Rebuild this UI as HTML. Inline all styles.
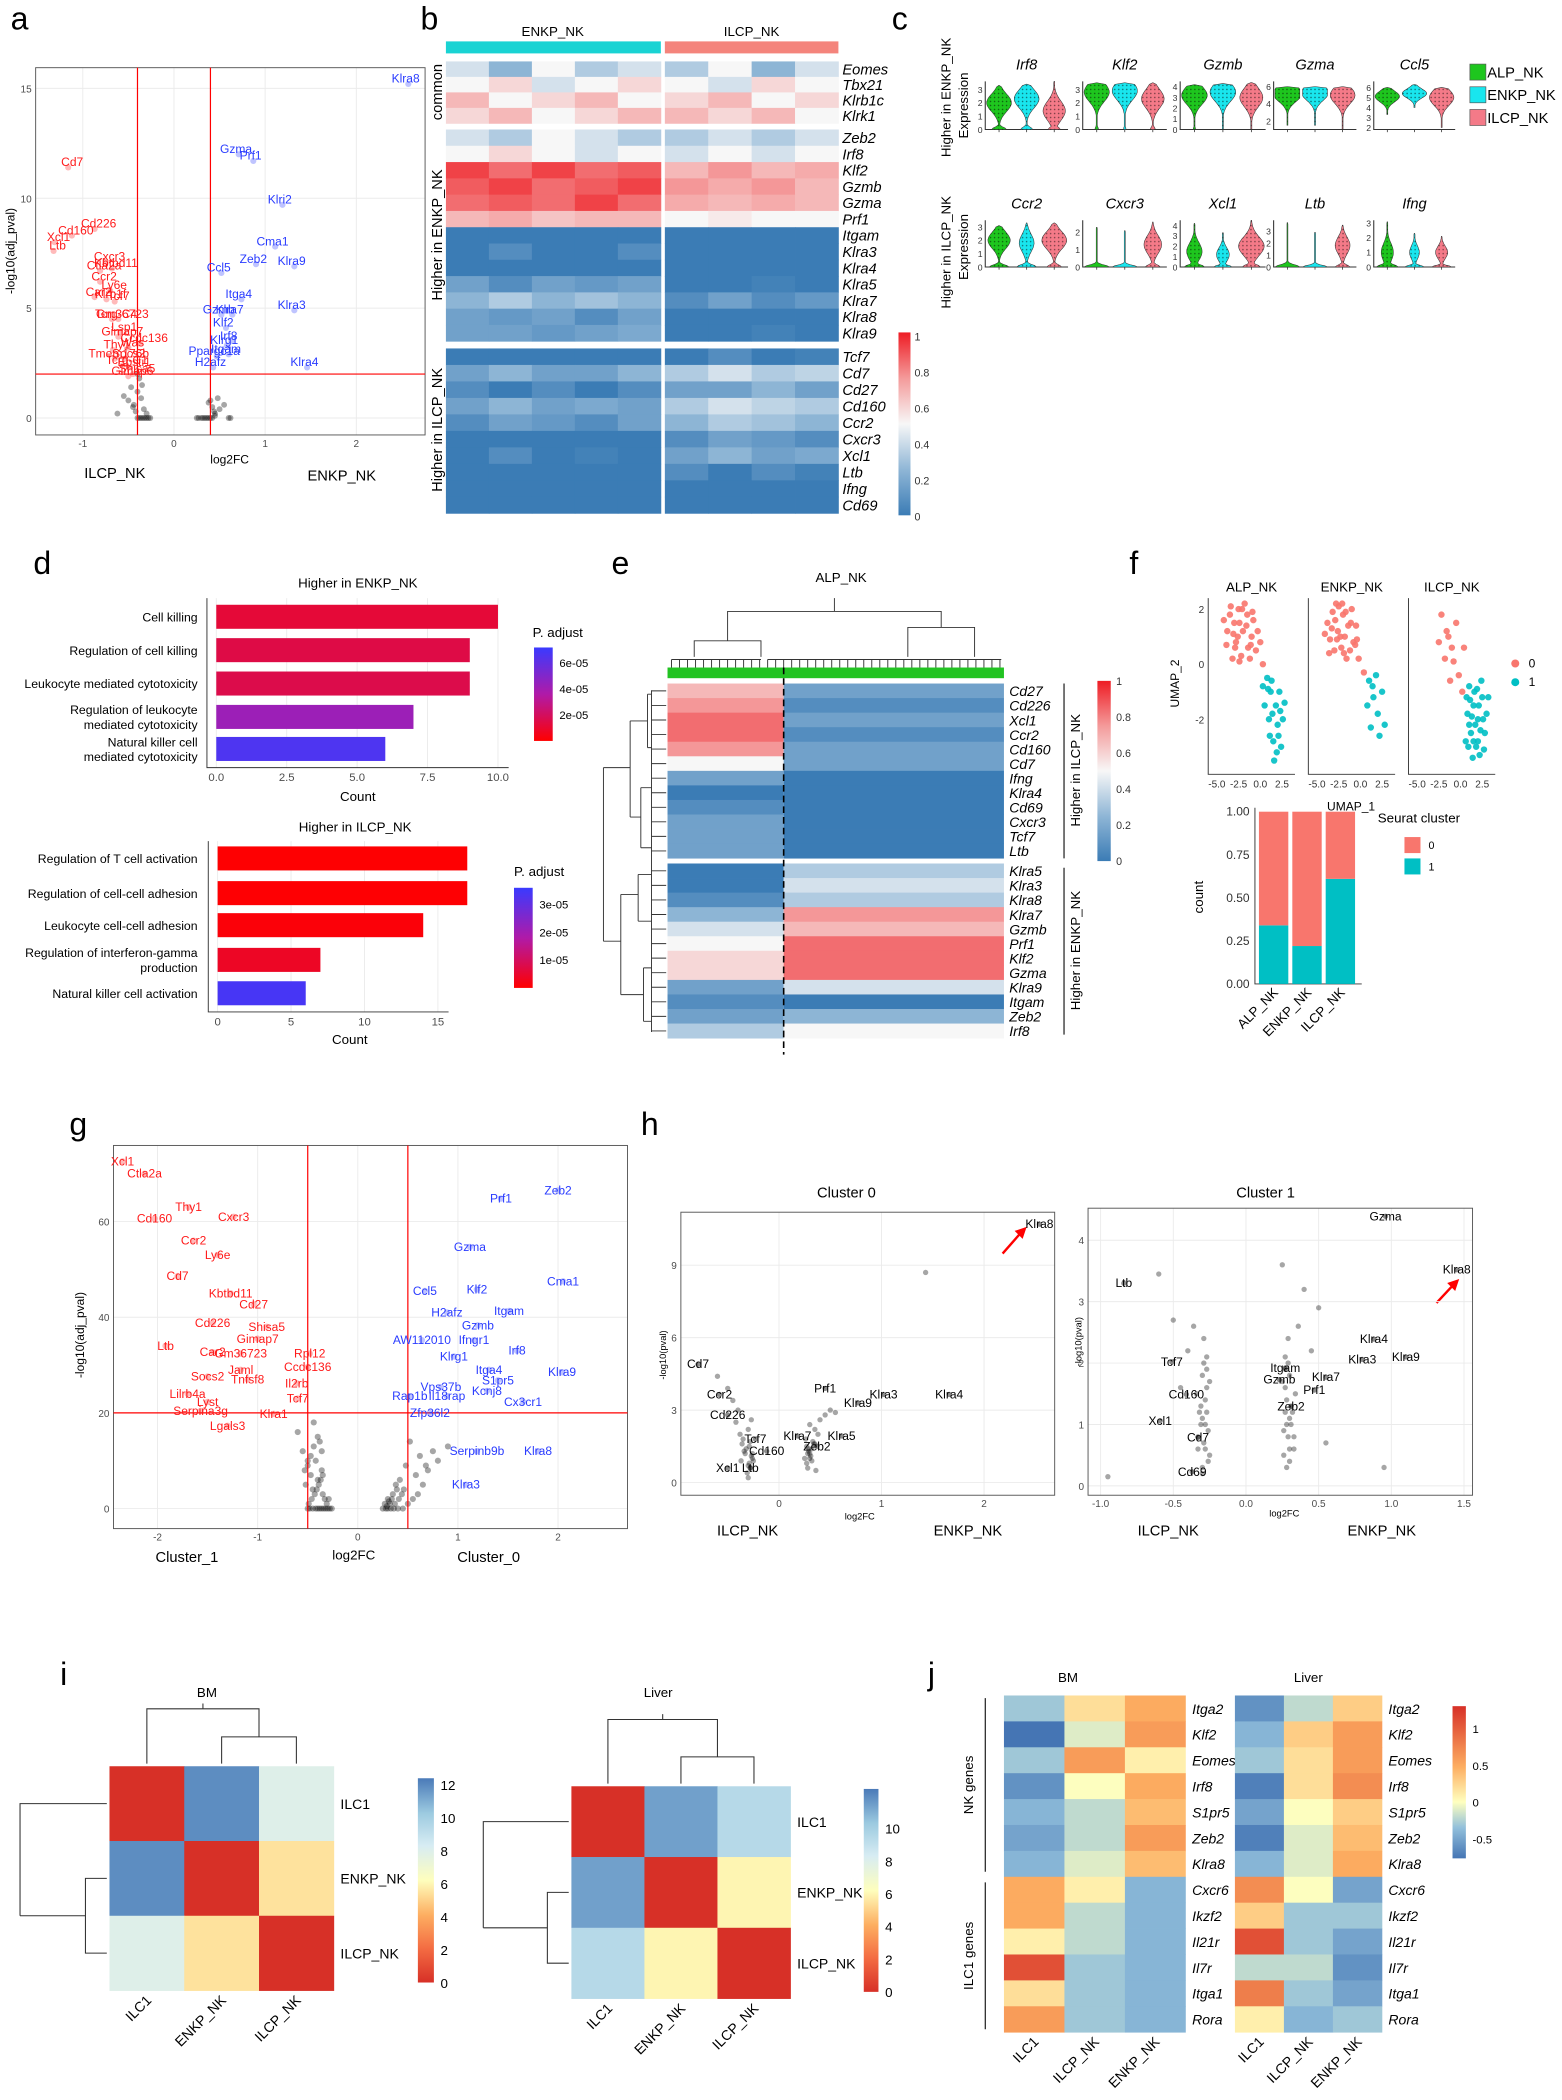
<!DOCTYPE html>
<html><head><meta charset="utf-8"><title>Figure</title>
<style>
html,body{margin:0;padding:0;background:#fff;}
svg{display:block;font-family:"Liberation Sans",Arial,sans-serif;}
.it{font-style:italic;}
</style></head>
<body>
<svg id="fig" xmlns="http://www.w3.org/2000/svg" width="1562" height="2100" viewBox="0 0 1170 1573">
<defs>
<pattern id="dots" width="3" height="3" patternUnits="userSpaceOnUse"><circle cx="1" cy="1" r="0.55" fill="#000" opacity="0.55"/></pattern>
<linearGradient id="gradB" x1="0" y1="1" x2="0" y2="0"><stop offset="0" stop-color="#3b7cb5"/><stop offset="0.25" stop-color="#8fb6d6"/><stop offset="0.5" stop-color="#f7f7f7"/><stop offset="0.75" stop-color="#f49a9a"/><stop offset="1" stop-color="#ee1c24"/></linearGradient>
<linearGradient id="gradP" x1="0" y1="1" x2="0" y2="0"><stop offset="0" stop-color="#ff0000"/><stop offset="0.5" stop-color="#b01aa8"/><stop offset="1" stop-color="#3a3aff"/></linearGradient>
<linearGradient id="gradI" x1="0" y1="1" x2="0" y2="0"><stop offset="0" stop-color="#d73027"/><stop offset="0.17" stop-color="#f46d43"/><stop offset="0.33" stop-color="#fdae61"/><stop offset="0.5" stop-color="#fefebd"/><stop offset="0.67" stop-color="#d7ecf3"/><stop offset="0.83" stop-color="#9ccae0"/><stop offset="1" stop-color="#4a7ab8"/></linearGradient>
<linearGradient id="gradJ" x1="0" y1="1" x2="0" y2="0"><stop offset="0" stop-color="#4575b4"/><stop offset="0.2" stop-color="#91bfdb"/><stop offset="0.37" stop-color="#ffffbf"/><stop offset="0.6" stop-color="#fdae61"/><stop offset="1" stop-color="#d73027"/></linearGradient>
</defs>

<text x="8" y="22" font-size="24">a</text>
<text x="315" y="22" font-size="24">b</text>
<text x="668" y="22" font-size="24">c</text>
<text x="25" y="430" font-size="24">d</text>
<text x="458" y="430" font-size="24">e</text>
<text x="846" y="430" font-size="24">f</text>
<text x="52" y="850" font-size="24">g</text>
<text x="480" y="850" font-size="24">h</text>
<text x="45" y="1262" font-size="24">i</text>
<text x="695" y="1262" font-size="24">j</text>

<text transform="translate(11,188) rotate(-90)" font-size="9" text-anchor="middle">-log10(adj_pval)</text>
<text x="172" y="347" font-size="9" text-anchor="middle">log2FC</text>
<text x="86" y="358" font-size="11" text-anchor="middle">ILCP_NK</text>
<text x="256" y="360" font-size="11" text-anchor="middle">ENKP_NK</text>

<rect x="334" y="31" width="161" height="9" fill="#19d3d3"/>
<rect x="498" y="31" width="130" height="9" fill="#f4847c"/>
<text x="414" y="27" font-size="10" text-anchor="middle">ENKP_NK</text>
<text x="563" y="27" font-size="10" text-anchor="middle">ILCP_NK</text>
<text transform="translate(331,69) rotate(-90)" font-size="11" text-anchor="middle">common</text>
<text transform="translate(331,176) rotate(-90)" font-size="11" text-anchor="middle">Higher in ENKP_NK</text>
<text transform="translate(331,322) rotate(-90)" font-size="11" text-anchor="middle">Higher in ILCP_NK</text>
<rect x="673" y="249" width="9" height="137" fill="url(#gradB)"/>

<text transform="translate(712,73) rotate(-90)" font-size="10" text-anchor="middle">Higher in ENKP_NK</text>
<text transform="translate(725,79) rotate(-90)" font-size="10" text-anchor="middle">Expression</text>
<text transform="translate(712,189) rotate(-90)" font-size="10" text-anchor="middle">Higher in ILCP_NK</text>
<text transform="translate(725,185) rotate(-90)" font-size="10" text-anchor="middle">Expression</text>
<rect x="1101" y="48" width="12" height="12" fill="#1ec61e" stroke="#555" stroke-width="0.5"/>
<rect x="1101" y="65" width="12" height="12" fill="#19e6ee" stroke="#555" stroke-width="0.5"/>
<rect x="1101" y="82" width="12" height="12" fill="#f47a88" stroke="#555" stroke-width="0.5"/>
<text x="1114" y="58" font-size="11">ALP_NK</text>
<text x="1114" y="75" font-size="11">ENKP_NK</text>
<text x="1114" y="92" font-size="11">ILCP_NK</text>

<text x="268" y="440" font-size="10" text-anchor="middle">Higher in ENKP_NK</text>
<text x="268" y="600" font-size="10" text-anchor="middle">Count</text>
<text x="399" y="477" font-size="10">P. adjust</text>
<rect x="400" y="485" width="14" height="70" fill="url(#gradP)"/>
<text x="266" y="623" font-size="10" text-anchor="middle">Higher in ILCP_NK</text>
<text x="262" y="782" font-size="10" text-anchor="middle">Count</text>
<text x="385" y="656" font-size="10">P. adjust</text>
<rect x="385" y="665" width="14" height="75" fill="url(#gradP)"/>

<text x="630" y="436" font-size="10" text-anchor="middle">ALP_NK</text>
<rect x="500" y="500" width="252" height="8" fill="#22c322"/>
<rect x="822" y="510" width="10" height="135" fill="url(#gradB)"/>
<line x1="797" y1="512" x2="797" y2="643" stroke="#000" stroke-width="0.8"/>
<line x1="797" y1="650" x2="797" y2="775" stroke="#000" stroke-width="0.8"/>
<text transform="translate(809,577) rotate(-90)" font-size="10" text-anchor="middle">Higher in ILCP_NK</text>
<text transform="translate(809,712) rotate(-90)" font-size="10" text-anchor="middle">Higher in ENKP_NK</text>

<text x="1012" y="607" font-size="9" text-anchor="middle">UMAP_1</text>
<text transform="translate(883,512) rotate(-90)" font-size="9" text-anchor="middle">UMAP_2</text>
<circle cx="1135" cy="497" r="3" fill="#f8766d"/>
<circle cx="1135" cy="511" r="3" fill="#00bfc4"/>
<text x="1145" y="500" font-size="9">0</text>
<text x="1145" y="514" font-size="9">1</text>
<text transform="translate(901,672) rotate(-90)" font-size="10" text-anchor="middle">count</text>
<text x="1032" y="616" font-size="10">Seurat cluster</text>
<rect x="1052" y="627" width="12" height="12" fill="#f8766d"/>
<rect x="1052" y="643" width="12" height="12" fill="#00bfc4"/>
<text x="1070" y="636" font-size="8">0</text>
<text x="1070" y="652" font-size="8">1</text>

<text transform="translate(63,1000) rotate(-90)" font-size="9" text-anchor="middle">-log10(adj_pval)</text>
<text x="265" y="1168" font-size="10" text-anchor="middle">log2FC</text>
<text x="140" y="1170" font-size="11" text-anchor="middle">Cluster_1</text>
<text x="366" y="1170" font-size="11" text-anchor="middle">Cluster_0</text>

<text x="634" y="897" font-size="11" text-anchor="middle">Cluster 0</text>
<text x="948" y="897" font-size="11" text-anchor="middle">Cluster 1</text>
<text transform="translate(499,1015) rotate(-90)" font-size="7" text-anchor="middle">-log10(pval)</text>
<text transform="translate(810,1005) rotate(-90)" font-size="7" text-anchor="middle">-log10(pval)</text>
<text x="644" y="1138" font-size="7" text-anchor="middle">log2FC</text>
<text x="962" y="1136" font-size="7" text-anchor="middle">log2FC</text>
<text x="560" y="1150" font-size="11" text-anchor="middle">ILCP_NK</text>
<text x="725" y="1150" font-size="11" text-anchor="middle">ENKP_NK</text>
<text x="875" y="1150" font-size="11" text-anchor="middle">ILCP_NK</text>
<text x="1035" y="1150" font-size="11" text-anchor="middle">ENKP_NK</text>
<line x1="751" y1="939" x2="765" y2="923" stroke="#f00" stroke-width="1.8"/>
<polygon points="769,919 760,922 766,928" fill="#f00"/>
<line x1="1076" y1="976" x2="1089" y2="962" stroke="#f00" stroke-width="1.8"/>
<polygon points="1093,958 1084,961 1090,967" fill="#f00"/>

<text x="155" y="1271" font-size="10" text-anchor="middle">BM</text>
<text x="493" y="1271" font-size="10" text-anchor="middle">Liver</text>
<rect x="313" y="1332" width="12" height="153" fill="url(#gradI)"/>
<rect x="647" y="1340" width="11" height="152" fill="url(#gradI)"/>

<text x="800" y="1260" font-size="10" text-anchor="middle">BM</text>
<text x="980" y="1260" font-size="10" text-anchor="middle">Liver</text>
<line x1="738" y1="1272" x2="738" y2="1402" stroke="#000" stroke-width="0.8"/>
<line x1="738" y1="1410" x2="738" y2="1520" stroke="#000" stroke-width="0.8"/>
<text transform="translate(729,1337) rotate(-90)" font-size="10" text-anchor="middle">NK genes</text>
<text transform="translate(729,1465) rotate(-90)" font-size="10" text-anchor="middle">ILC1 genes</text>
<rect x="1088" y="1278" width="10" height="114" fill="url(#gradJ)"/>
</svg>

<script>
// ================= DATA =================
const aGenes = ['Cd7','Cd226','Cd160','Xcl1','Ltb','Cxcr3','Kbtbd11','Ctla2a','Ccr2','Car2','Ly6e','Klrb1f','Tcf7','Tcrg-C4','Gm36723','Lsp1','Gimap7','Thy1','Was','Ccdc136','Tmem176b','Socs2','Tcrg-C1','Epsti1','Gimap6','Shisa5',
 'Klra8','Gzma','Prf1','Klri2','Cma1','Zeb2','Klra9','Ccl5','Itga4','Klra3','Gzmb','Klra7','Klf2','Irf8','Klrg1','Ppargc1a','Itgam','Klra4','H2afz'];
const aFc = [-1.16,-0.87,-1.12,-1.31,-1.32,-0.75,-0.68,-0.81,-0.81,-0.87,-0.7,-0.74,-0.65,-0.68,-0.61,-0.59,-0.61,-0.67,-0.5,-0.37,-0.65,-0.54,-0.56,-0.48,-0.5,-0.45,
 2.57,0.71,0.87,1.19,1.11,0.9,1.32,0.52,0.74,1.32,0.52,0.64,0.57,0.63,0.58,0.47,0.6,1.46,0.43];
const aP = [11.4,8.6,8.3,8.0,7.6,7.1,6.8,6.7,6.2,5.5,5.8,5.4,5.3,4.5,4.5,3.9,3.7,3.1,3.2,3.4,2.7,2.7,2.4,2.3,1.9,2.0,
 15.2,12.0,11.7,9.7,7.8,7.0,6.9,6.6,5.4,4.9,4.7,4.7,4.1,3.5,3.3,2.8,2.9,2.3,2.3];
const aBgFc = [-0.38,-0.36,-0.34,-0.32,-0.3,-0.28,-0.26,-0.4,-0.42,-0.45,-0.5,-0.55,-0.62,-0.35,-0.38,-0.4,-0.44,-0.36,-0.33,-0.4,-0.47,-0.3,0.25,0.27,0.3,0.32,0.34,0.36,0.38,0.4,0.42,0.45,0.5,0.55,0.6,0.4,0.42,0.44,0.38,0.62,0.45,0.48];
const aBgP = [0,0,0,0,0,0,0,0,0.3,0.5,0.8,1.0,0.2,1.5,1.8,1.2,0.6,0.9,0.4,2.0,1.4,0.2,0,0,0,0,0,0,0,0,0,0.2,0.4,0.6,0,0.8,0.5,0.3,0.7,0,0.1,0.9];
const aXTicks = [-1,0,1,2];
const aYTicks = [0,5,10,15];

const bGenes = ['Eomes','Tbx21','Klrb1c','Klrk1','Zeb2','Irf8','Klf2','Gzmb','Gzma','Prf1','Itgam','Klra3','Klra4','Klra5','Klra7','Klra8','Klra9','Tcf7','Cd7','Cd27','Cd160','Ccr2','Cxcr3','Xcl1','Ltb','Ifng','Cd69'];
const bSection = [0,0,0,0,1,1,1,1,1,1,1,1,1,1,1,1,1,2,2,2,2,2,2,2,2,2,2];
const bEnkp = [[.45,.35,.5,.4,.45],[.5,.55,.45,.5,.55],[.6,.5,.55,.6,.5],[.55,.6,.5,.55,.6],[.45,.4,.5,.45,.4],[.5,.55,.5,.45,.5],[.75,.7,.75,.7,.72],[.72,.75,.7,.72,.75],[.7,.72,.7,.75,.7],[.6,.62,.58,.6,.6],[.15,.1,.15,.1,.12],[.2,.25,.2,.2,.25],[.15,.2,.15,.15,.2],[.3,.25,.3,.28,.3],[.35,.4,.35,.38,.35],[.3,.28,.3,.25,.3],[.3,.3,.28,.3,.32],
 [.15,.15,.12,.15,.15],[.3,.35,.3,.3,.35],[.25,.2,.25,.2,.25],[.3,.35,.3,.32,.3],[.25,.3,.28,.25,.3],[.15,.2,.15,.18,.15],[.2,.25,.2,.22,.2],[.15,.12,.15,.12,.15],[.12,.15,.12,.1,.15],[.1,.12,.1,.1,.12]];
const bIlcp = [[.4,.5,.35,.45],[.5,.45,.55,.5],[.55,.6,.5,.55],[.6,.55,.6,.5],[.4,.45,.4,.45],[.45,.5,.45,.5],[.6,.65,.6,.62],[.65,.62,.65,.6],[.62,.6,.62,.6],[.5,.52,.5,.5],[.1,.1,.12,.1],[.15,.12,.15,.12],[.1,.12,.1,.1],[.2,.2,.22,.2],[.25,.3,.25,.28],[.15,.18,.15,.15],[.2,.2,.22,.2],
 [.2,.25,.2,.22],[.4,.45,.4,.42],[.3,.3,.35,.3],[.4,.45,.42,.4],[.35,.4,.38,.35],[.25,.3,.28,.25],[.3,.35,.3,.32],[.25,.2,.25,.22],[.2,.18,.2,.2],[.15,.12,.15,.15]];
const bBarTicks = ['1','0.8','0.6','0.4','0.2','0'];

const cGenes1 = ['Irf8','Klf2','Gzmb','Gzma','Ccl5'];
const cGenes2 = ['Ccr2','Cxcr3','Xcl1','Ltb','Ifng'];
const cDom1 = [[0,3.6],[0,3.6],[0,4.5],[1,6.6],[1.8,6.6]];
const cDom2 = [[0,3.5],[0,2.7],[0,4.5],[0,3.9],[0,3.2]];
const cTicks1 = [[0,1,2,3],[0,1,2,3],[0,1,2,3,4],[2,4,6],[2,3,4,5,6]];
const cTicks2 = [[0,1,2,3],[0,1,2],[0,1,2,3,4],[0,1,2,3],[0,1,2,3]];
const cVio1 = [
 [[0,3.3,2,0.6,1],[0,3.4,2.3,0.5,1],[0,3.6,1.4,0.5,0.9]],
 [[0,3.5,2.8,0.15,1],[0,3.5,2.9,0.1,1],[0,3.5,2.3,0.2,0.9]],
 [[0,4.2,3.2,0.1,1],[0,4.3,3.5,0,1],[0,4.4,3,0,0.9]],
 [[1.5,6,5.2,0,1.2],[1.5,6,5.3,0,1.1],[1,6,5,0,1]],
 [[3.3,6,5.1,0,1],[4,6.3,5.4,0,1],[2,6,5,0,1]]];
const cVio2 = [
 [[0,3.1,2,0.8,0.9],[0,3.3,1.8,0.8,0.6],[0,3.3,2,0.6,1]],
 [[0,2.3,0,1,0],[0,2.1,0,1,0],[0,2.6,1.3,0.6,0.7]],
 [[0,4.2,1.5,0.8,0.6],[0,3.3,1.2,0.7,0.5],[0,4.5,2,0.7,1]],
 [[0,3.7,0,1,0],[0,2.9,0,1,0],[0,3.5,1.8,0.6,0.6]],
 [[0,3.1,1,0.9,0.5],[0,2.3,1,0.8,0.4],[0,2.1,1,0.8,0.5]]];

const d1Cats = ['Cell killing','Regulation of cell killing','Leukocyte mediated cytotoxicity','Regulation of leukocyte|mediated cytotoxicity','Natural killer cell|mediated cytotoxicity'];
const d1Counts = [10,9,9,7,6];
const d1Padj = [1.2e-5,1.5e-5,1.6e-5,4.2e-5,6.6e-5];
const d1XTicks = [0,2.5,5,7.5,10];
const d1XTickLabels = ['0.0','2.5','5.0','7.5','10.0'];
const d1LegTicks = [6e-5,4e-5,2e-5];
const d1LegLabels = ['6e-05','4e-05','2e-05'];
const d2Cats = ['Regulation of T cell activation','Regulation of cell-cell adhesion','Leukocyte cell-cell adhesion','Regulation of interferon-gamma|production','Natural killer cell activation'];
const d2Counts = [17,17,14,7,6];
const d2Padj = [2e-7,3e-7,1e-6,4e-6,3.4e-5];
const d2XTicks = [0,5,10,15];
const d2LegTicks = [3e-5,2e-5,1e-5];
const d2LegLabels = ['3e-05','2e-05','1e-05'];

const eGenes = ['Cd27','Cd226','Xcl1','Ccr2','Cd160','Cd7','Ifng','Klra4','Cd69','Cxcr3','Tcf7','Ltb','Klra5','Klra3','Klra8','Klra7','Gzmb','Prf1','Klf2','Gzma','Klra9','Itgam','Zeb2','Irf8'];
const eLeft = [.6,.65,.7,.7,.65,.5,.3,.2,.25,.3,.3,.3,.2,.2,.25,.35,.45,.5,.55,.55,.3,.25,.3,.4];
const eRight = [.3,.25,.3,.25,.3,.3,.2,.15,.15,.2,.15,.2,.4,.45,.4,.65,.6,.7,.7,.7,.45,.2,.35,.5];

const fPanels = ['ALP_NK','ENKP_NK','ILCP_NK'];
const fX = [[-3.5,-3,-2.5,-2,-1.5,-1,-0.5,-2.8,-3.8,-2.2,-1.2,0,-1.8,-0.8,-3.2,0.3,-2.6,-1.4,-4.2,-3.4,-2.4,-1.6,-0.9,-2.9,-3.9,-2.1,-1.1,-0.3,-2.4,-3.1,0.8,1.2,1.8,2,1.5,2.4,0.5,1,2.2,1.6,2.6,0.3,1.4,2.1,1.1,2.8,0.9,1.9,2.3,1.3],
 [-3.8,-3.2,-2.6,-2,-1.4,-0.8,-0.2,-3,-2.2,-1.6,-1,-3.5,-2.5,-0.5,0.4,-1.8,-2.9,-1.2,-4.1,-3.6,-2.8,-2.3,-1.7,-1.1,-0.6,-3.3,-2.7,-1.9,-0.4,-2.1,1,1.5,2,1.2,2.5,1.8,2.8,0.8,2.2,1.4],
 [-2.2,-1.6,-1,-0.5,-1.8,-0.2,0.4,-1.2,0.2,-2.5,-1.4,-0.8,1,1.5,2,2.5,1.2,1.8,2.8,0.8,2.2,1.6,3,0.6,1.4,2.4,2,1,1.7,2.6,1.1,2.1,0.9,1.5,2.7,1.9,3.2,1.3,2.3,0.7]];
const fY = [[1.8,1.5,2,1.2,1.8,1,0.5,0.8,1.2,0.3,0.2,0.8,2.2,1.6,0.2,0,1,0.6,1.6,2.1,1.5,1.4,1.9,0.6,0.7,2.0,0.7,1.2,0.1,1.1,-0.5,-1,-1.5,-2.2,-2.8,-3,-1.5,-2,-1,-3.5,-2,-0.8,-1.8,-2.6,-2.6,-1.4,-0.9,-3.2,-1.7,-0.6],
 [1.5,1.9,1.2,1.8,1.4,0.8,0.2,0.5,0.6,0.2,2,0.9,2.1,1.4,-0.3,1,1.6,0.5,1.1,0.4,2.2,1.0,1.9,1.5,0.7,1.3,0.9,0.4,0.9,2.2,-0.6,-1.2,-1.8,-2.3,-1,-0.4,-2.2,-1.5,-2.6,-0.8],
 [1.8,1.2,0.6,1.5,0.2,-0.4,0.6,-0.6,-1,0.8,1.0,0.1,-0.8,-1.5,-2,-1.2,-2.5,-3,-2.5,-1.8,-3.3,-1,-1.8,-2.8,-3.4,-0.6,-2.8,-2.2,-2.2,-2.0,-1.3,-1.5,-3.0,-2.8,-3.1,-0.9,-1.2,-1.9,-2.4,-1.2]];
const fC = [[0,0,0,0,0,0,0,0,0,0,0,0,0,0,0,0,0,0,0,0,0,0,0,0,0,0,0,0,0,0,1,1,1,1,1,1,1,1,1,1,1,1,1,1,1,1,1,1,1,1],
 [0,0,0,0,0,0,0,0,0,0,0,0,0,0,0,0,0,0,0,0,0,0,0,0,0,0,0,0,0,0,1,1,1,1,1,1,1,1,1,1],
 [0,0,0,0,0,0,0,0,0,0,0,0,1,1,1,1,1,1,1,1,1,1,1,1,1,1,1,1,1,1,1,1,1,1,1,1,1,1,1,1]];
const fXTickLabels = ['-5.0','-2.5','0.0','2.5'];
const fXTicks = [-5,-2.5,0,2.5];
const fYTicks = [2,0,-2];
const fBarCats = ['ALP_NK','ENKP_NK','ILCP_NK'];
const fCluster1Frac = [0.34,0.22,0.61];
const fBarTicks = [0,0.25,0.5,0.75,1];
const fBarTickLabels = ['0.00','0.25','0.50','0.75','1.00'];

const gGenes = ['Xcl1','Ctla2a','Thy1','Cxcr3','Cd160','Ccr2','Ly6e','Cd7','Kbtbd11','Cd27','Ltb','Cd226','Shisa5','Gimap7','Gm36723','Rpl12','Car2','Jaml','Ccdc136','Socs2','Tnfsf8','Il2rb','Lilrb4a','Lyst','Tcf7','Serpina3g','Klra1','Lgals3',
 'Prf1','Zeb2','Gzma','Cma1','Ccl5','Klf2','Itgam','H2afz','Gzmb','AW112010','Ifngr1','Klrg1','Irf8','Itga4','Klra9','Vps37b','S1pr5','Rap1b','Il18rap','Kcnj8','Cx3cr1','Zfp36l2','Serpinb9b','Klra8','Klra3'];
const gFc = [-2.35,-2.13,-1.69,-1.24,-2.03,-1.64,-1.4,-1.8,-1.27,-1.04,-1.92,-1.45,-0.91,-1,-1.17,-0.48,-1.45,-1.17,-0.5,-1.5,-1.1,-0.61,-1.7,-1.5,-0.6,-1.57,-0.84,-1.3,
 1.43,2,1.12,2.05,0.67,1.19,1.51,0.89,1.2,0.64,1.16,0.96,1.59,1.31,2.04,0.83,1.4,0.52,0.89,1.29,1.65,0.72,1.19,1.8,1.08];
const gP = [72.6,70,63,61,60.6,56,53,48.6,45,42.7,34,38.8,38,35.5,32.4,32.4,32.7,29,29.6,27.6,27,26.2,24,22.3,23,20.4,19.8,17.3,
 64.8,66.5,54.7,47.5,45.5,45.8,41.3,41,38.3,35.2,35.2,31.8,33,29,28.5,25.4,26.8,23.5,23.5,24.6,22.3,20,12,12,5];
const gBgFc = [-0.5,-0.48,-0.45,-0.42,-0.4,-0.38,-0.36,-0.34,-0.32,-0.3,-0.28,-0.26,-0.45,-0.4,-0.35,-0.5,-0.55,-0.6,-0.42,-0.38,-0.47,-0.33,-0.52,-0.44,-0.36,-0.49,-0.46,-0.43,-0.41,-0.39,-0.37,-0.35,-0.53,-0.5,-0.47,-0.44,-0.31,-0.29,-0.4,-0.36,
 0.25,0.28,0.3,0.33,0.36,0.4,0.45,0.5,0.55,0.6,0.65,0.7,0.8,0.9,0.35,0.42,0.48,0.3,0.27,0.52,0.38,0.62,0.32,0.34,0.37,0.41,0.44,0.29,0.31,0.46,0.39,0.58,0.68,0.75];
const gBgP = [0,0,0,0,0,0,0,0,0,0,0,0,4,6,3,9,12,16,10,14,7,2,5,18,8,1,2,3,4,5,6,7,8,10,11,13,1,2,15,12,
 0,0,0,0,0,0,0,1,2,3,5,8,10,13,3,6,9,2,1,14,5,11,1,2,1,2,3,0.5,1.5,4,4,7,9,12];
const gXTicks = [-2,-1,0,1,2];
const gYTicks = [0,20,40,60];

const h0Genes = ['Klra8','Cd7','Ccr2','Cd226','Tcf7','Cd160','Xcl1','Ltb','Prf1','Klra9','Klra3','Klra4','Klra7','Klra5','Zeb2'];
const h0Fc = [2.54,-0.79,-0.58,-0.5,-0.23,-0.12,-0.5,-0.28,0.45,0.77,1.02,1.66,0.18,0.61,0.37];
const h0P = [10.7,4.9,3.65,2.8,1.8,1.3,0.6,0.6,3.9,3.3,3.65,3.65,1.93,1.93,1.5];
const h0BgFc = [1.43,-0.3,-0.28,-0.26,-0.32,-0.35,-0.3,-0.27,-0.4,-0.45,-0.5,-0.6,-0.38,-0.33,-0.29,-0.42,-0.36,-0.31,-0.27,-0.29,-0.25,-0.34,-0.3,-0.28,-0.26,-0.37,
 0.28,0.3,0.32,0.26,0.35,0.4,0.3,0.28,0.45,0.5,0.34,0.38,0.27,0.55,0.31,0.36,0.29,0.33,0.27,0.3,0.25,0.32,0.29,0.35];
const h0BgP = [8.7,0.2,0.6,1,1.4,1.8,2.2,2.6,3,3.4,3.9,4.4,2,1.2,0.8,2.5,1.6,0.4,1.1,1.5,0.9,1.3,0.7,1.7,1.2,0.9,
 0.6,1,1.4,1.8,2.2,2.6,2.4,1.2,2.8,3,1.6,2,0.8,2.9,1.1,0.5,1.3,1.7,1.5,1.2,1.0,0.9,1.4,1.6];
const h0XTicks = [0,1,2];
const h0YTicks = [0,3,6,9];
const h1Genes = ['Gzma','Ltb','Klra8','Klra4','Klra3','Klra9','Tcf7','Itgam','Gzmb','Klra7','Prf1','Cd160','Zeb2','Xcl1','Cd7','Cd69'];
const h1Fc = [0.96,-0.84,1.45,0.88,0.8,1.1,-0.51,0.27,0.23,0.55,0.47,-0.41,0.31,-0.59,-0.33,-0.37];
const h1P = [4.39,3.3,3.52,2.39,2.06,2.1,2.02,1.92,1.73,1.77,1.56,1.49,1.29,1.06,0.79,0.23];
const h1BgFc = [-0.3,-0.28,-0.26,-0.32,-0.34,-0.3,-0.27,-0.29,-0.25,-0.31,-0.36,-0.4,-0.45,-0.5,-0.28,-0.33,-0.3,-0.27,-0.6,-0.95,-0.26,-0.29,-0.31,-0.27,-0.3,-0.28,-0.25,-0.33,-0.29,-0.27,
 0.28,0.3,0.26,0.32,0.34,0.3,0.27,0.29,0.25,0.31,0.36,0.4,0.45,0.5,0.28,0.33,0.3,0.27,0.55,0.95,0.26,0.29,0.31,0.27,0.3,0.28,0.25,0.33,0.29,0.27];
const h1BgP = [0.3,0.6,0.9,1.2,1.5,1.8,2.1,2.4,0.5,1.0,2.6,2.2,1.6,2.7,1.4,0.8,1.1,1.9,3.45,0.15,0.4,0.7,1.3,1.6,0.2,1.0,1.7,0.6,2.0,1.2,
 0.3,0.6,0.9,1.2,1.5,1.8,2.1,2.4,3.6,1.0,2.6,3.2,2.2,2.9,1.4,0.8,1.1,1.9,0.7,0.3,0.5,0.8,1.3,1.6,0.4,1.0,1.7,0.6,2.0,1.2];
const h1XTicks = [-1,-0.5,0,0.5,1,1.5];
const h1XTickLabels = ['-1.0','-0.5','0.0','0.5','1.0','1.5'];
const h1YTicks = [0,1,2,3,4];

const iLabels = ['ILC1','ENKP_NK','ILCP_NK'];
const iBM = [[0,12,8],[12,0,5.5],[8,5.5,0]];
const iLiver = [[0,11.5,9.5],[11.5,0,6],[9.5,6,0]];
const iBMTicks = [12,10,8,6,4,2,0];
const iLiverTicks = [10,8,6,4,2,0];

const jGenes = ['Itga2','Klf2','Eomes','Irf8','S1pr5','Zeb2','Klra8','Cxcr6','Ikzf2','Il21r','Il7r','Itga1','Rora'];
const jCols = ['ILC1','ILCP_NK','ENKP_NK'];
const jBM = [[-0.3,0.2,0.5],[-0.8,-0.1,0.6],[-0.3,0.6,0.1],[-0.6,0,0.5],[-0.4,-0.2,0.4],[-0.5,-0.2,0.6],[-0.4,-0.1,0.4],[0.5,0.1,-0.4],[0.5,-0.2,-0.4],[0.1,-0.2,-0.4],[1.1,-0.3,-0.4],[0.2,-0.3,-0.4],[0.6,-0.3,-0.4]];
const jLiver = [[-0.6,-0.2,0.3],[-0.4,0.3,0.6],[-0.3,0.2,0.6],[-0.7,0.2,0.7],[-0.5,0,0.3],[-0.7,-0.1,0.4],[-0.4,-0.1,0.5],[0.7,0,-0.5],[0.3,-0.3,-0.3],[1.1,-0.3,-0.5],[-0.2,-0.2,-0.6],[0.8,-0.3,-0.5],[0.1,-0.4,-0.3]];
const jTicks = [1,0.5,0,-0.5];
const jTickLabels = ['1','0.5','0','-0.5'];

// ================= HELPERS =================
const NS='http://www.w3.org/2000/svg';
const svg=document.getElementById('fig');
function mk(tag,attrs,parent){const e=document.createElementNS(NS,tag);for(const k in attrs)e.setAttribute(k,attrs[k]);(parent||svg).appendChild(e);return e;}
function txt(s,attrs,parent){const e=mk('text',attrs,parent);e.textContent=s;return e;}
function hex(c){return [parseInt(c.slice(1,3),16),parseInt(c.slice(3,5),16),parseInt(c.slice(5,7),16)];}
function interp(stops,t){t=Math.max(0,Math.min(1,t));for(let i=0;i<stops.length-1;i++){const a=stops[i],b=stops[i+1];if(t<=b[0]){const u=(t-a[0])/(b[0]-a[0]);const ca=hex(a[1]),cb=hex(b[1]);return 'rgb('+ca.map((v,k)=>Math.round(v+(cb[k]-v)*u)).join(',')+')';}}return stops[stops.length-1][1];}
const rdbu=[[0,'#3b7cb5'],[0.25,'#8fb6d6'],[0.5,'#f7f7f7'],[0.75,'#f49a9a'],[1,'#ee1c24']];
// stronger display contrast: heatmap stripes are mixed; mean values look more saturated in the figure
function hm(v){return interp(rdbu,0.5+(v-0.5)*1.7);}
const padjStops=[[0,'#ff0000'],[0.5,'#b01aa8'],[1,'#3a3aff']];
const iStops=[[0,'#d73027'],[0.17,'#f46d43'],[0.33,'#fdae61'],[0.5,'#fefebd'],[0.67,'#d7ecf3'],[0.83,'#9ccae0'],[1,'#4a7ab8']];
const jStops=[[0,'#4575b4'],[0.2,'#91bfdb'],[0.37,'#ffffbf'],[0.6,'#fdae61'],[1,'#d73027']];
function lin(d0,d1,r0,r1){return v=>r0+(v-d0)*(r1-r0)/(d1-d0);}

function frame(prefix,x0,y0,x1,y1,xs,ys,xt,xtl,yt,grid){
  if(grid){
    for(const v of xt){const l=mk('line',{x1:xs(v),x2:xs(v),y1:y0,y2:y1,stroke:'#ebebeb','stroke-width':0.7});
      
      }
    for(const v of yt){const l=mk('line',{x1:x0,x2:x1,y1:ys(v),y2:ys(v),stroke:'#ebebeb','stroke-width':0.7});
      
      }
  }
  const r=mk('rect',{x:x0,y:y0,width:x1-x0,height:y1-y0,fill:'none',stroke:'#555','stroke-width':0.7});
  
  
  xt.forEach((v,i)=>{const t=txt(xtl?xtl[i]:String(v),{x:xs(v),y:y1+9,'font-size':7.5,'text-anchor':'middle',fill:'#4d4d4d'});
    
    });
  yt.forEach(v=>{const t=txt(String(v),{x:x0-3,y:ys(v)+3,'font-size':7.5,'text-anchor':'end',fill:'#4d4d4d'});
    
    });
}

// ================= PANEL A =================
{
  const xs=lin(0,1,130.3,198.6), ys=lin(0,15,313.1,66.2);
  frame('a',26.7,50.7,318.4,325.8,xs,ys,aXTicks,null,aYTicks,true);
  for(let i=0;i<aBgFc.length;i++){const c=mk('circle',{cx:xs(aBgFc[i]),cy:ys(aBgP[i]),r:2.2,fill:'#000','fill-opacity':0.35});
    
    }
  for(const v of [-0.4,0.4]){const l=mk('line',{x1:xs(v),x2:xs(v),y1:50.7,y2:325.8,stroke:'#f00','stroke-width':0.9});
    
    }
  const h=mk('line',{x1:26.7,x2:318.4,y1:ys(2),y2:ys(2),stroke:'#f00','stroke-width':0.9});
  
  
  aGenes.forEach((g,i)=>{const col=aFc[i]<0?'#ff1a1a':'#2a3cff';
    const c=mk('circle',{cx:xs(aFc[i]),cy:ys(aP[i]),r:2.3,fill:col,'fill-opacity':0.3});
    
    
    const t=txt(g,{x:xs(aFc[i])+(aFc[i]<0?3:-2),y:ys(aP[i])-1,'font-size':9,'text-anchor':'middle',fill:col});
    
    });
}

// ================= PANEL B =================
{
  const secTop=[46,97,261], secH=[11.6,12.2,12.35];
  const secStart=[0,4,17];
  const ex=[334,495], ix=[498,628];
  bGenes.forEach((g,i)=>{const s=bSection[i];const y=secTop[s]+(i-secStart[s])*secH[s];
    const ew=(ex[1]-ex[0])/bEnkp[i].length;
    bEnkp[i].forEach((v,k)=>{const r=mk('rect',{x:ex[0]+k*ew,y:y,width:ew+0.3,height:secH[s]+0.3,fill:hm(v)});
      
      });
    const iw=(ix[1]-ix[0])/bIlcp[i].length;
    bIlcp[i].forEach((v,k)=>{const r=mk('rect',{x:ix[0]+k*iw,y:y,width:iw+0.3,height:secH[s]+0.3,fill:hm(v)});
      
      });
    const t=txt(g,{x:631,y:y+secH[s]/2+4,'font-size':11,class:'it'});
    
    });
  bBarTicks.forEach((s,i)=>{const t=txt(s,{x:685,y:252+i*27+3,'font-size':8,fill:'#333'});
    
    });
}

// ================= PANEL C =================
{
  const boxesX=[[738,800],[811,874],[884,948],[954,1016],[1029,1090]];
  const cols=['#1ec61e','#19e6ee','#f47a88'];
  function row(genes,dom,ticks,vio,y0,y1,labY){
    genes.forEach((g,gi)=>{const [x0,x1]=boxesX[gi];const ys=lin(dom[gi][0],dom[gi][1],y1,y0);
      const t=txt(g,{x:(x0+x1)/2,y:labY,'font-size':11,'text-anchor':'middle',class:'it'});
      
      
      const ax=mk('path',{d:'M'+x0+','+y0+'V'+y1+'H'+x1,fill:'none',stroke:'#333','stroke-width':0.8});
      
      
      ticks[gi].forEach(v=>{const tt=txt(String(v),{x:x0-2,y:ys(v)+2.5,'font-size':6.5,'text-anchor':'end',fill:'#333'});
        
        });
      const w=(x1-x0)/3;
      vio[gi].forEach((p,k)=>{const [mn,mx,mode,zw,mw]=p;const cx=x0+w*(k+0.5);const hw=w*0.45;
        const sd=(mx-mn)/5, sz=(mx-mn)*0.05;const N=30;const L=[],R=[];
        for(let j=0;j<=N;j++){const v=mn+(mx-mn)*j/N;
          let wd=Math.max(mw*Math.exp(-0.5*((v-mode)/sd)**2), zw*Math.exp(-0.5*((v-mn)/sz)**2), 0.04);
          if(j===N)wd=0.02;wd=Math.min(1,wd)*hw;
          L.push((cx-wd).toFixed(1)+','+ys(v).toFixed(1));R.unshift((cx+wd).toFixed(1)+','+ys(v).toFixed(1));}
        const d='M'+L.join('L')+'L'+R.join('L')+'Z';
        const vp=mk('path',{d:d,fill:cols[k],stroke:'#333','stroke-width':0.4});
        
        
        if(mw>0){const dp=mk('path',{d:d,fill:'url(#dots)',stroke:'none'});
          
          }
        const tk=mk('line',{x1:cx,x2:cx,y1:y1,y2:y1+2,stroke:'#333','stroke-width':0.6});
        
        });
    });
  }
  row(cGenes1,cDom1,cTicks1,cVio1,61,97,52);
  row(cGenes2,cDom2,cTicks2,cVio2,165,200,156);
}

// ================= PANEL D =================
function barPanel(prefix,cats,counts,padj,pmax,xt,xtl,xs,centers,y0,y1,legTicks,legLabels,legY0,legY1,legX){
  for(const v of xt){const l=mk('line',{x1:xs(v),x2:xs(v),y1:y0,y2:y1,stroke:'#ebebeb','stroke-width':0.7});
    
    }
  const ax=mk('path',{d:'M'+(xs(0)-7)+','+y0+'V'+y1+'H'+(xs(xt[xt.length-1])+8),fill:'none',stroke:'#333','stroke-width':0.7});
  
  
  cats.forEach((c,i)=>{const b=mk('rect',{x:xs(0),y:centers[i]-9,width:xs(counts[i])-xs(0),height:18,fill:interp(padjStops,padj[i]/pmax)});
    
    
    const parts=c.split('|');
    parts.forEach((p,k)=>{const t=txt(p,{x:148,y:centers[i]+3.5+(k-(parts.length-1)/2)*11,'font-size':9.2,'text-anchor':'end'});
      
      });});
  xt.forEach((v,i)=>{const t=txt(xtl?xtl[i]:String(v),{x:xs(v),y:y1+10,'font-size':8.5,'text-anchor':'middle',fill:'#4d4d4d'});
    
    });
  const ly=lin(0,pmax,legY1,legY0);
  legTicks.forEach((v,i)=>{const t=txt(legLabels[i],{x:legX,y:ly(v)+3,'font-size':8.5});
    
    });
}
barPanel('d1',d1Cats,d1Counts,d1Padj,7.2e-5,d1XTicks,d1XTickLabels,lin(0,10,162,373),[462,487,512,537,561],448,575,d1LegTicks,d1LegLabels,485,555,419);
barPanel('d2',d2Cats,d2Counts,d2Padj,3.6e-5,d2XTicks,null,lin(0,15,163,328),[643,669,693,719,744],630,758,d2LegTicks,d2LegLabels,665,740,404);

// ================= PANEL E =================
{
  const top=512,h=10.9,gapAfter=11,gap=4;
  eGenes.forEach((g,i)=>{const y=top+i*h+(i>gapAfter?gap:0);
    const l=mk('rect',{x:500,y:y,width:87,height:h+0.3,fill:hm(eLeft[i])});
    
    
    const r=mk('rect',{x:587,y:y,width:165,height:h+0.3,fill:hm(eRight[i])});
    
    
    const t=txt(g,{x:756,y:y+h/2+4,'font-size':10.5,class:'it'});
    
    });
  const dl=mk('line',{x1:587,x2:587,y1:500,y2:790,stroke:'#000','stroke-width':1.2,'stroke-dasharray':'5,3'});
  
  
  let d='M545,480V458H705V470 M520,492V480H570V492 M680,492V470H730V492';
  for(let x=503;x<=750;x+=6){d+=' M'+x+',500V494';}
  d+=' M503,494H570 M575,494H750';
  const cd=mk('path',{d:d,fill:'none',stroke:'#333','stroke-width':0.7});
  
  
  const ctop=mk('line',{x1:625,x2:625,y1:448,y2:458,stroke:'#333','stroke-width':0.7});
  
  
  let rd='M452,575V705 M452,575H472 M452,705H465 M472,540V612 M472,540H485 M472,612H480 M465,670V745 M465,670H478 M465,745H482 M485,520V560 M480,590V635 M478,655V690 M482,725V765';
  for(let i=0;i<eGenes.length;i++){const y=top+i*h+(i>gapAfter?gap:0)+h/2;rd+=' M488,'+y.toFixed(1)+'H499';}
  rd+=' M485,520H488 M485,560H488 M480,590H488 M480,635H488 M478,655H488 M478,690H488 M482,725H488 M482,765H488 M488,517V773';
  const rdp=mk('path',{d:rd,fill:'none',stroke:'#333','stroke-width':0.7});
  
  
  bBarTicks.forEach((s,i)=>{const t=txt(s,{x:836,y:513+i*27,'font-size':8,fill:'#333'});
    
    });
}

// ================= PANEL F =================
{
  const px=[[905,970],[980,1045],[1055,1120]];
  const ys=lin(-4,2.4,580,448);
  fPanels.forEach((p,pi)=>{const xs=lin(-6,4,px[pi][0],px[pi][1]);
    const t=txt(p,{x:(px[pi][0]+px[pi][1])/2,y:443,'font-size':10,'text-anchor':'middle'});
    
    
    const ax=mk('path',{d:'M'+px[pi][0]+',448V580H'+px[pi][1],fill:'none',stroke:'#333','stroke-width':0.7});
    
    
    fXTicks.forEach((v,i)=>{const tt=txt(fXTickLabels[i],{x:xs(v),y:590,'font-size':7.5,'text-anchor':'middle',fill:'#333'});
      
      });
    fX[pi].forEach((x,i)=>{const c=mk('circle',{cx:xs(x),cy:ys(fY[pi][i]),r:2.4,fill:fC[pi][i]?'#00bfc4':'#f8766d','fill-opacity':0.9});
      
      });
  });
  fYTicks.forEach(v=>{const t=txt(String(v),{x:902,y:ys(v)+3,'font-size':7.5,'text-anchor':'end',fill:'#333'});
    
    });
  const by=lin(0,1,737,608);
  const ax=mk('path',{d:'M940,605V737H1020',fill:'none',stroke:'#333','stroke-width':0.7});
  
  
  fBarTicks.forEach((v,i)=>{const t=txt(fBarTickLabels[i],{x:936,y:by(v)+3,'font-size':9,'text-anchor':'end',fill:'#333'});
    
    });
  fBarCats.forEach((c,i)=>{const cx=954+i*25;
    const r1=mk('rect',{x:cx-11,y:by(fCluster1Frac[i]),width:22,height:by(0)-by(fCluster1Frac[i]),fill:'#00bfc4'});
    
    
    const r0=mk('rect',{x:cx-11,y:by(1),width:22,height:by(fCluster1Frac[i])-by(1),fill:'#f8766d'});
    
    
    const t=txt(c,{transform:'translate('+(cx+4)+',744) rotate(-45)','font-size':10,'text-anchor':'end'});
    
    });
}

// ================= PANEL G =================
{
  const xs=lin(0,1,268,343), ys=lin(0,60,1130,915);
  frame('g',85,858,470,1145,xs,ys,gXTicks,null,gYTicks,true);
  for(let i=0;i<gBgFc.length;i++){const c=mk('circle',{cx:xs(gBgFc[i]),cy:ys(gBgP[i]),r:2.3,fill:'#000','fill-opacity':0.35});
    
    }
  for(const v of [-0.5,0.5]){const l=mk('line',{x1:xs(v),x2:xs(v),y1:858,y2:1145,stroke:'#f00','stroke-width':0.9});
    
    }
  const hl=mk('line',{x1:85,x2:470,y1:ys(20),y2:ys(20),stroke:'#f00','stroke-width':0.9});
  
  
  gGenes.forEach((g,i)=>{const col=gFc[i]<0?'#ff1a1a':'#2a3cff';
    const c=mk('circle',{cx:xs(gFc[i]),cy:ys(gP[i]),r:2.4,fill:col,'fill-opacity':0.3});
    
    
    const t=txt(g,{x:xs(gFc[i]),y:ys(gP[i])+3,'font-size':9,'text-anchor':'middle',fill:col});
    
    });
}

// ================= PANEL H =================
function hPanel(prefix,x0,y0,x1,y1,xs,ys,xt,xtl,yt,genes,fc,p,bfc,bp){
  frame(prefix,x0,y0,x1,y1,xs,ys,xt,xtl,yt,true);
  for(let i=0;i<bfc.length;i++){const c=mk('circle',{cx:xs(bfc[i]),cy:ys(bp[i]),r:2,fill:'#000','fill-opacity':0.35});
    
    }
  genes.forEach((g,i)=>{const c=mk('circle',{cx:xs(fc[i]),cy:ys(p[i]),r:2,fill:'#000','fill-opacity':0.45});
    
    
    const t=txt(g,{x:xs(fc[i]),y:ys(p[i])+3,'font-size':9,'text-anchor':'middle'});
    
    });
}
hPanel('h0',510,908,790,1120,lin(0,1,583.5,660.3),lin(0,9,1110.5,947.7),h0XTicks,null,h0YTicks,h0Genes,h0Fc,h0P,h0BgFc,h0BgP);
hPanel('h1',815,905,1103,1120,lin(-1,1.5,824.4,1096.6),lin(0,4,1113,929),h1XTicks,h1XTickLabels,h1YTicks,h1Genes,h1Fc,h1P,h1BgFc,h1BgP);

// ================= PANEL I =================
function iPanel(prefix,mat,x0,y0,cw,ch,maxv,ticks,barY0,barY1,barX,treeTop,treeLeft){
  mat.forEach((row,r)=>row.forEach((v,c)=>{const rc=mk('rect',{x:x0+c*cw,y:y0+r*ch,width:cw+0.3,height:ch+0.3,fill:interp(iStops,v/12.5)});
    
    }));
  iLabels.forEach((l,k)=>{const t=txt(l,{x:x0+3*cw+5,y:y0+(k+0.5)*ch+4,'font-size':10.5});
    
    
    const t2=txt(l,{transform:'translate('+(x0+(k+0.5)*cw+4)+','+(y0+3*ch+8)+') rotate(-45)','font-size':10.5,'text-anchor':'end'});
    
    });
  const cx=k=>x0+(k+0.5)*cw, cy=k=>y0+(k+0.5)*ch;
  const mid12=(cx(1)+cx(2))/2, my12=(cy(1)+cy(2))/2;
  const td='M'+cx(1)+','+(y0-2)+'V'+(y0-22)+'H'+cx(2)+'V'+(y0-2)+' M'+mid12+','+(y0-22)+'V'+(treeTop+12)+' M'+cx(0)+','+(y0-2)+'V'+treeTop+'H'+mid12+'V'+(treeTop+12)+' M'+((cx(0)+mid12)/2)+','+treeTop+'V'+(treeTop-4);
  const tp=mk('path',{d:td,fill:'none',stroke:'#333','stroke-width':0.8});
  
  
  const ld='M'+(x0-2)+','+cy(1)+'H'+(x0-18)+'V'+cy(2)+'H'+(x0-2)+' M'+(x0-18)+','+my12+'H'+treeLeft+' M'+(x0-2)+','+cy(0)+'H'+treeLeft+'V'+my12;
  const lp=mk('path',{d:ld,fill:'none',stroke:'#333','stroke-width':0.8});
  
  
  const s=lin(0,maxv,barY1,barY0);
  ticks.forEach(v=>{const t=txt(String(v),{x:barX,y:s(v)+4,'font-size':10});
    
    });
}
iPanel('i-bm',iBM,82,1323,56,56,12.4,iBMTicks,1332,1485,330,1280,15);
iPanel('i-liver',iLiver,428,1338,54.7,53,12.4,iLiverTicks,1340,1492,663,1288,362);

// ================= PANEL J =================
function jPanel(prefix,mat,x0,cw,labX){
  const y0=1270,h=19.4;
  mat.forEach((row,r)=>{row.forEach((v,c)=>{const rc=mk('rect',{x:x0+c*cw,y:y0+r*h,width:cw+0.3,height:h+0.3,fill:interp(jStops,(v+0.76)/2.07)});
      
      });
    const t=txt(jGenes[r],{x:labX,y:y0+r*h+h/2+4,'font-size':10.5,class:'it'});
    
    });
  jCols.forEach((c,k)=>{const t=txt(c,{transform:'translate('+(x0+(k+0.5)*cw+4)+',1530) rotate(-45)','font-size':10.5,'text-anchor':'end'});
    
    });
}
jPanel('j-bm',jBM,752,45.3,893);
jPanel('j-liver',jLiver,925,36.7,1040);
{
  const s=lin(-0.5,1,1378,1295);
  jTicks.forEach((v,i)=>{const t=txt(jTickLabels[i],{x:1103,y:s(v)+3,'font-size':8.5});
    
    });
}
</script>
</body></html>
